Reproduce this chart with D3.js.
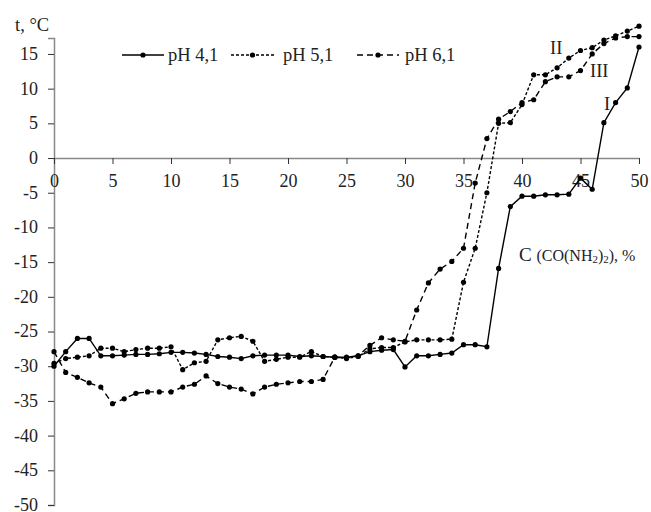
<!DOCTYPE html>
<html>
<head>
<meta charset="utf-8">
<script src="https://cdn.jsdelivr.net/npm/d3@7"></script>
<style>
  body { margin: 0; background: #fff; }
  svg text { font-family: "Liberation Serif", "Times New Roman", serif; fill: #222; }
</style>
</head>
<body>
<svg width="651" height="512"></svg>
<script>
// urea concentration, %
var conc = d3.range(0, 51);

var ph41 = [-30, -27.9, -26, -26, -28.5, -28.5, -28.4, -28.3, -28.3, -28.2,
    -28.0, -28.0, -28.1, -28.3, -28.6, -28.7, -28.9, -28.5, -28.4, -28.4,
    -28.4, -28.6, -28.5, -28.6, -28.7, -28.7, -28.5, -27.9, -27.7, -27.6,
    -30.1, -28.5, -28.5, -28.3, -28.1, -26.9, -26.9, -27.2, -15.9, -7.0,
    -5.5, -5.5, -5.3, -5.3, -5.2, -2.9, -4.5, 5.1, 8.0, 10.1, 16.0];

var ph51 = [-29.6, -28.9, -28.7, -28.5, -27.4, -27.4, -27.9, -27.6, -27.4, -27.4,
    -27.2, -30.5, -29.5, -29.3, -26.2, -25.9, -25.7, -26.4, -29.3, -29.0,
    -28.7, -28.7, -27.9, -28.6, -28.7, -28.9, -28.6, -27.5, -27.3, -27.3,
    -26.5, -26.2, -26.2, -26.2, -26.1, -17.9, -13.0, -5.0, 5.0, 5.1,
    7.7, 12.0, 12.0, 13.0, 14.4, 15.5, 15.9, 17.0, 17.6, 18.3, 19.0];

var ph61 = [-27.9, -30.9, -31.6, -32.4, -33.0, -35.4, -34.7, -33.9, -33.7, -33.7,
    -33.7, -33.0, -32.6, -31.4, -32.5, -33.0, -33.3, -34.0, -33.0, -32.6,
    -32.4, -32.2, -32.2, -31.9, -28.7, -28.8, -28.5, -27.0, -25.9, -26.2,
    -26.4, -21.9, -18.0, -16.0, -14.9, -13.0, -3.6, 2.8, 5.6, 6.7,
    8.0, 8.4, 11.0, 11.7, 11.7, 12.6, 15.0, 16.5, 17.3, 17.5, 17.5];

var xTicks = [0, 5, 10, 15, 20, 25, 30, 35, 40, 45, 50];
var yTicks = [15, 10, 5, 0, -5, -10, -15, -20, -25, -30, -35, -40, -45, -50];

var seriesNames = ["pH 4,1", "pH 5,1", "pH 6,1"];
var curveLabels = ["I", "II", "III"];

var svg = d3.select("svg");

var x = d3.scaleLinear().domain([0, 50]).range([54, 639]);
var y = d3.scaleLinear().domain([-50, 17.3]).range([505, 38]);

var series = [
    {name: seriesNames[0], values: ph41, dash: null},
    {name: seriesNames[1], values: ph51, dash: "3,2"},
    {name: seriesNames[2], values: ph61, dash: "6,4"}
];

// y axis
var yAxis = d3.axisLeft(y).tickValues(yTicks).tickSize(6).tickFormat(d3.format("d"));
var gy = svg.append("g").attr("transform", "translate(" + x(0) + ",0)").call(yAxis);
gy.select(".domain").attr("stroke", "#888").attr("stroke-width", 1.5);
gy.selectAll(".tick line").attr("stroke", "#333");
gy.selectAll(".tick text")
    .attr("x", -16)
    .attr("dy", "0.3em")
    .style("font-size", "18px")
    .text(function(d) { return d < 0 ? "-" + Math.abs(d) : d; });

// x axis crossing at zero
var xAxis = d3.axisBottom(x).tickValues(xTicks).tickSize(6).tickSizeOuter(0);
var gx = svg.append("g").attr("transform", "translate(0," + y(0) + ")").call(xAxis);
gx.select(".domain").attr("stroke", "#888").attr("stroke-width", 1.5);
gx.selectAll(".tick line").attr("stroke", "#333");
gx.selectAll(".tick text").attr("y", 16).style("font-size", "18px");

// lines
var line = d3.line()
    .x(function(d, i) { return x(conc[i]); })
    .y(function(d) { return y(d); });

series.forEach(function(s) {
    svg.append("path")
        .datum(s.values)
        .attr("fill", "none")
        .attr("stroke", "#000")
        .attr("stroke-width", 1.4)
        .attr("stroke-dasharray", s.dash)
        .attr("d", line);

    svg.append("g").selectAll("circle")
        .data(s.values)
        .join("circle")
        .attr("cx", function(d, i) { return x(conc[i]); })
        .attr("cy", function(d) { return y(d); })
        .attr("r", 2.6)
        .attr("fill", "#000");
});

// legend
var legendLine = [[122, 164], [231, 274], [357, 399]];
var legendText = [168, 283, 405];
series.forEach(function(s, i) {
    var l = legendLine[i];
    svg.append("line")
        .attr("x1", l[0]).attr("x2", l[1])
        .attr("y1", 55).attr("y2", 55)
        .attr("stroke", "#000").attr("stroke-width", 1.4)
        .attr("stroke-dasharray", s.dash);
    svg.append("circle").attr("cx", (l[0] + l[1]) / 2).attr("cy", 55).attr("r", 2.6).attr("fill", "#000");
    svg.append("text")
        .attr("x", legendText[i]).attr("y", 61)
        .style("font-size", "18.5px")
        .text(s.name);
});

// axis titles
svg.append("text").attr("x", 15).attr("y", 31).style("font-size", "18.5px").text("t, °C");

var ct = svg.append("text").attr("x", 519).attr("y", 261).style("font-size", "19px");
ct.append("tspan").text("C ");
ct.append("tspan").style("font-size", "16px").text("(CO(NH");
ct.append("tspan").style("font-size", "11px").attr("dy", 2).text("2");
ct.append("tspan").style("font-size", "16px").attr("dy", -2).text(")");
ct.append("tspan").style("font-size", "11px").attr("dy", 2).text("2");
ct.append("tspan").style("font-size", "16px").attr("dy", -2).text("), %");

// curve labels
var labelPos = [[604, 110], [550, 54], [590, 77]];
curveLabels.forEach(function(t, i) {
    svg.append("text")
        .attr("x", labelPos[i][0]).attr("y", labelPos[i][1])
        .style("font-size", "18.5px")
        .text(t);
});
</script>
</body>
</html>
